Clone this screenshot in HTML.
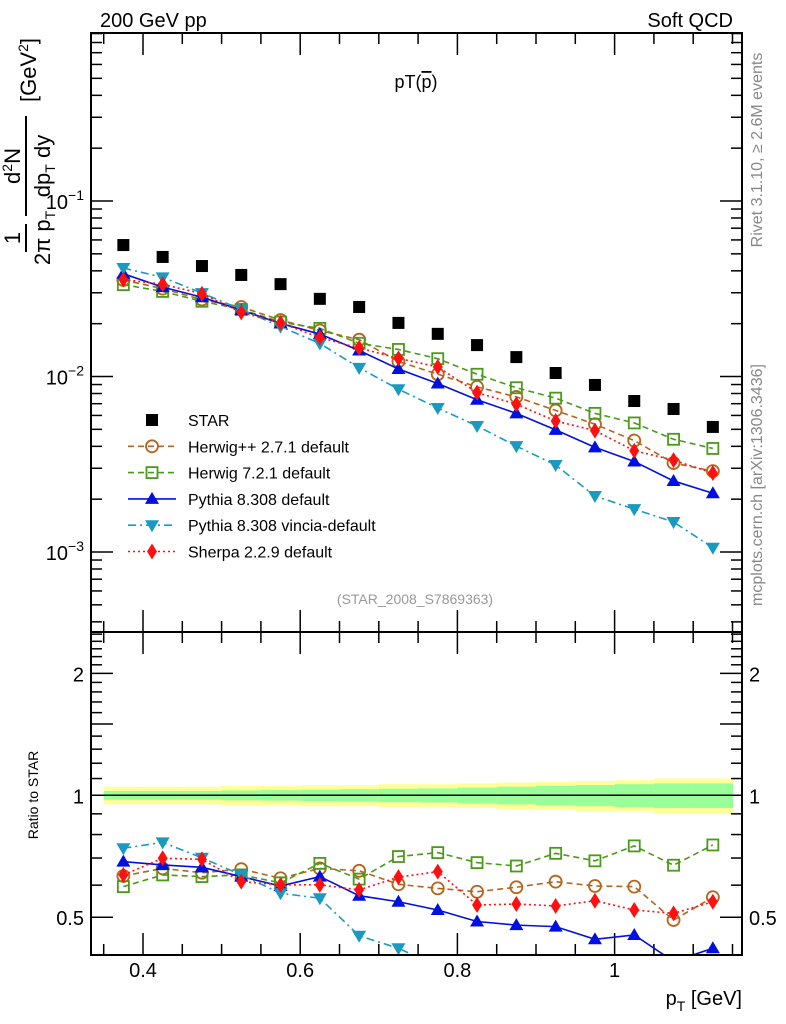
<!DOCTYPE html>
<html><head><meta charset="utf-8"><style>
html,body{margin:0;background:#fff;width:786px;height:1024px;overflow:hidden}
svg{display:block;font-family:"Liberation Sans",sans-serif}
</style></head><body>
<svg id="c" width="786" height="1024" viewBox="0 0 786 1024" xmlns="http://www.w3.org/2000/svg">
<defs>
<clipPath id="cm"><rect x="91" y="33" width="651" height="599"/></clipPath>
<clipPath id="cr"><rect x="91" y="632" width="651" height="323"/></clipPath>
</defs>
<g id="bands" clip-path="url(#cr)"></g>
<g id="grid"></g>
<g id="series"></g>
<rect x="91" y="33" width="651" height="599" fill="none" stroke="#000" stroke-width="2"/>
<rect x="91" y="632" width="651" height="323" fill="none" stroke="#000" stroke-width="2"/>
<text x="100" y="27" font-size="20">200 GeV pp</text>
<text x="733" y="27" font-size="20" text-anchor="end">Soft QCD</text>
<text x="416" y="88" font-size="18" text-anchor="middle">pT(<tspan text-decoration="overline">p</tspan>)</text>
<text x="415" y="604" font-size="14" fill="#999" text-anchor="middle">(STAR_2008_S7869363)</text>
<text transform="translate(762,150) rotate(-90)" font-size="16" fill="#888" text-anchor="middle">Rivet 3.1.10, ≥ 2.6M events</text>
<text transform="translate(762,485) rotate(-90)" font-size="16" fill="#888" text-anchor="middle">mcplots.cern.ch [arXiv:1306.3436]</text>
<g transform="rotate(-90)" font-size="22">
<text x="-238" y="20" text-anchor="middle">1</text>
<line x1="-252" x2="-224" y1="26" y2="26" stroke="#000" stroke-width="2"/>
<text x="-238" y="50" text-anchor="middle">2π p<tspan font-size="14" dy="5">T</tspan></text>
<text x="-166" y="20" text-anchor="middle">d<tspan font-size="14" dy="-8">2</tspan><tspan dy="8">N</tspan></text>
<line x1="-216" x2="-116" y1="26" y2="26" stroke="#000" stroke-width="2"/>
<text x="-166" y="50" text-anchor="middle">dp<tspan font-size="14" dy="5">T</tspan><tspan dy="-5"> dy</tspan></text>
<text x="-70" y="36" text-anchor="middle">[GeV<tspan font-size="14" dy="-8">2</tspan><tspan dy="8">]</tspan></text>
</g>
<text transform="translate(38,795) rotate(-90)" font-size="14" text-anchor="middle">Ratio to STAR</text>
<text x="742" y="1005" font-size="20" text-anchor="end">p<tspan font-size="14" dy="6">T</tspan><tspan dy="-6"> [GeV]</tspan></text>
<g id="legend"></g>
</svg>
<script>
const xs = [0.375,0.425,0.475,0.525,0.575,0.625,0.675,0.725,0.775,0.825,0.875,0.925,0.975,1.025,1.075,1.125];
const star = [0.0561,0.048,0.0426,0.0379,0.0336,0.0277,0.0249,0.0202,0.0175,0.0151,0.0129,0.01047,0.00895,0.00725,0.00653,0.00516];
const starErrOuter = [0.05,0.05,0.05,0.055,0.055,0.06,0.06,0.065,0.065,0.07,0.075,0.08,0.085,0.09,0.1,0.1];
const starErrInner = [0.025,0.025,0.025,0.028,0.03,0.032,0.035,0.038,0.04,0.045,0.05,0.055,0.06,0.065,0.07,0.07];
const ratioHerwigpp = [0.632,0.660,0.644,0.657,0.624,0.660,0.651,0.603,0.589,0.578,0.593,0.612,0.597,0.595,0.492,0.560];
const ratioHerwig7 = [0.595,0.636,0.630,0.636,0.608,0.679,0.621,0.706,0.722,0.682,0.669,0.719,0.689,0.750,0.672,0.754];
const ratioPythia = [0.686,0.673,0.664,0.630,0.597,0.630,0.565,0.546,0.521,0.488,0.478,0.474,0.441,0.452,0.389,0.419];
const ratioVincia = [0.740,0.765,0.701,0.636,0.573,0.557,0.450,0.419,0.378,0.346,0.311,0.299,0.233,0.242,0.227,0.205];
const ratioSherpa = [0.636,0.699,0.695,0.612,0.601,0.601,0.584,0.628,0.648,0.536,0.539,0.533,0.549,0.521,0.511,0.546];
const xTicks = [0.4,0.6,0.8,1.0];
const xTickLabels = ["0.4","0.6","0.8","1"];
const ratioTicks = [0.5,1,2];
const ratioTickLabels = ["0.5","1","2"];

const NS="http://www.w3.org/2000/svg";
const svg=document.getElementById('c');
function X(v){return 143+(v-0.4)*786;}
function Y(v){return 201-(Math.log10(v)+1)*175.5;}
function R(v){return 795.3-Math.log10(v)*405;}
function mk(tag,attrs,parent){const e=document.createElementNS(NS,tag);for(const k in attrs)e.setAttribute(k,attrs[k]);(parent||svg).appendChild(e);return e;}
const grid=document.getElementById('grid');
for(let v=0.35;v<=1.151;v+=0.05){
  const x=X(v);const major=xTicks.some(t=>Math.abs(t-v)<1e-6);const L=major?22:11;
  for(const [yb,dir] of [[632,-1],[33,1],[955,-1],[632,1]]){
    const t=mk('line',{x1:x,x2:x,y1:yb,y2:yb+dir*L,stroke:'#000','stroke-width':1.5},grid);
    
    
  }
}
xTicks.forEach((v,i)=>{const t=mk('text',{x:X(v),y:977,'font-size':20,'text-anchor':'middle'},grid);t.textContent=xTickLabels[i];

});
for(let d=-4;d<=0;d++){for(let m=1;m<=9;m++){const v=m*Math.pow(10,d);const y=Y(v);if(y<33||y>632)continue;const L=m==1?22:11;
  mk('line',{x1:91,x2:91+L,y1:y,y2:y,stroke:'#000','stroke-width':1.5},grid);
  mk('line',{x1:742,x2:742-L,y1:y,y2:y,stroke:'#000','stroke-width':1.5},grid);
  if(m==1){const t=mk('text',{x:84,y:y+8,'font-size':20,'text-anchor':'end'},grid);t.innerHTML='10<tspan font-size="14" dy="-9">−'+(-d)+'</tspan>';
  
  }
}}
[0.4,0.5,0.6,0.7,0.8,0.9,1,1.1,1.2,1.3,1.4,1.5,1.6,1.7,1.8,1.9,2,2.1,2.2,2.3,2.4,2.5].forEach(v=>{const y=R(v);if(y<632||y>955)return;const major=ratioTicks.includes(v)||v==1.5;const L=major?22:11;
  mk('line',{x1:91,x2:91+L,y1:y,y2:y,stroke:'#000','stroke-width':1.5},grid);
  mk('line',{x1:742,x2:742-L,y1:y,y2:y,stroke:'#000','stroke-width':1.5},grid);});
ratioTicks.forEach((v,i)=>{const y=R(v);
  const a=mk('text',{x:84,y:y+8,'font-size':20,'text-anchor':'end'},grid);a.textContent=ratioTickLabels[i];
  
  
  const b=mk('text',{x:749,y:y+8,'font-size':20},grid);b.textContent=ratioTickLabels[i];
  
  });
const bands=document.getElementById('bands');
xs.forEach((v,i)=>{const x0=X(v-0.025),x1=X(v+0.025)+0.5;
  mk('rect',{x:x0,width:x1-x0,y:R(1+starErrOuter[i]),height:R(1-starErrOuter[i])-R(1+starErrOuter[i]),fill:'#ffff99'},bands);
  mk('rect',{x:x0,width:x1-x0,y:R(1+starErrInner[i]),height:R(1-starErrInner[i])-R(1+starErrInner[i]),fill:'#99ff99'},bands);});
const ul=mk('line',{x1:91,x2:742,y1:R(1),y2:R(1),stroke:'#000','stroke-width':1.5},bands);



function marker(g,type,color,x,y){
  if(type=='sq')return mk('rect',{x:x-6,y:y-6,width:12,height:12,fill:color},g);
  if(type=='osq')return mk('rect',{x:x-5.5,y:y-5.5,width:11,height:11,fill:'none',stroke:color,'stroke-width':1.8},g);
  if(type=='oc')return mk('circle',{cx:x,cy:y,r:6,fill:'none',stroke:color,'stroke-width':1.8},g);
  if(type=='tu')return mk('path',{d:`M${x},${y-7}L${x+7},${y+5}L${x-7},${y+5}Z`,fill:color},g);
  if(type=='td')return mk('path',{d:`M${x},${y+7}L${x+7},${y-5}L${x-7},${y-5}Z`,fill:color},g);
  if(type=='dm')return mk('path',{d:`M${x},${y-8}L${x+5},${y}L${x},${y+8}L${x-5},${y}Z`,fill:color},g);
}
const series=[
 {name:'herwigpp',label:'Herwig++ 2.7.1 default',r:ratioHerwigpp,c:'#b5641c',m:'oc',dash:'6,4'},
 {name:'herwig7',label:'Herwig 7.2.1 default',r:ratioHerwig7,c:'#4a9a1a',m:'osq',dash:'6,4'},
 {name:'pythia',label:'Pythia 8.308 default',r:ratioPythia,c:'#0010e0',m:'tu',dash:''},
 {name:'vincia',label:'Pythia 8.308 vincia-default',r:ratioVincia,c:'#1a9ac0',m:'td',dash:'8,4,2,4'},
 {name:'sherpa',label:'Sherpa 2.2.9 default',r:ratioSherpa,c:'#ff1010',m:'dm',dash:'2,3'}
];
const sg=document.getElementById('series');
series.forEach(s=>{
  const gm=mk('g',{'clip-path':'url(#cm)'},sg);
  
  
  const gr=mk('g',{'clip-path':'url(#cr)'},sg);
  
  
  const pm=xs.map((v,i)=>X(v)+','+Y(star[i]*s.r[i])).join(' ');
  const pr=xs.map((v,i)=>X(v)+','+R(s.r[i])).join(' ');
  mk('polyline',{points:pm,fill:'none',stroke:s.c,'stroke-width':1.6,'stroke-dasharray':s.dash},gm);
  mk('polyline',{points:pr,fill:'none',stroke:s.c,'stroke-width':1.6,'stroke-dasharray':s.dash},gr);
  xs.forEach((v,i)=>{
    const a=marker(gm,s.m,s.c,X(v),Y(star[i]*s.r[i]));
    
    
    const b=marker(gr,s.m,s.c,X(v),R(s.r[i]));
    
    
  });
});
const gs=mk('g',{},sg);


xs.forEach((v,i)=>{const p=marker(gs,'sq','#000',X(v),Y(star[i]));
  
  });
const lg=document.getElementById('legend');


const entries=[{label:'STAR',c:'#000',m:'sq',dash:null}].concat(series);
entries.forEach((e,i)=>{const y=420+i*26.3;
  const g=mk('g',{},lg);
  
  
  if(e.dash!==null)mk('line',{x1:128,x2:176,y1:y,y2:y,stroke:e.c,'stroke-width':1.6,'stroke-dasharray':e.dash},g);
  marker(g,e.m,e.c,152,y);
  const t=mk('text',{x:188,y:y+6,'font-size':16},g);t.textContent=e.label;
});
</script>
</body></html>
